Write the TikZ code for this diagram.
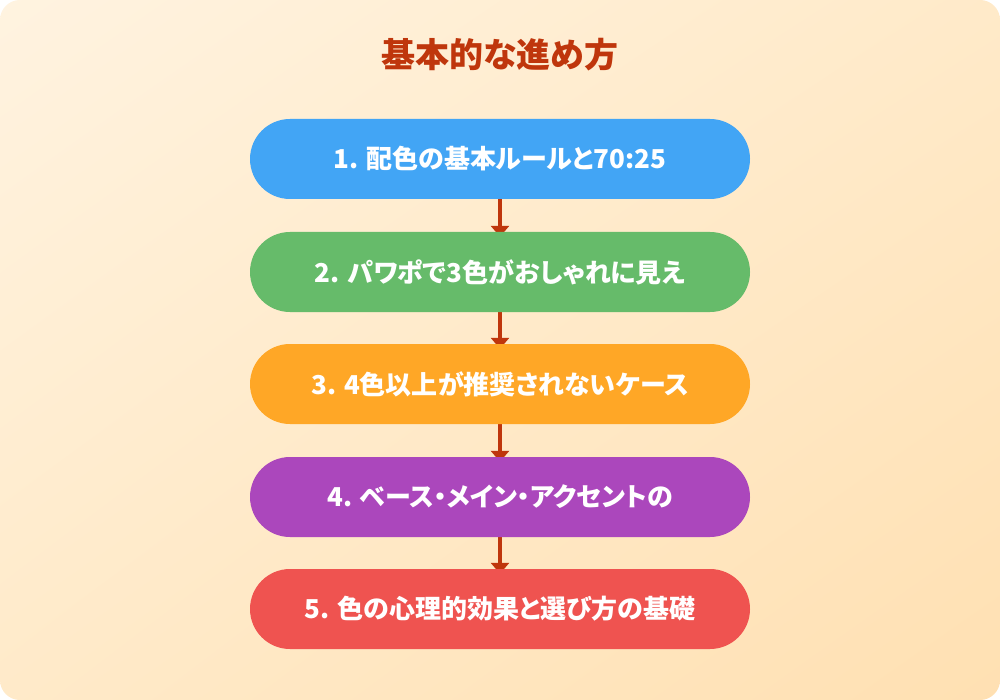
\documentclass[tikz,border=0pt]{standalone}
\usepackage{fontspec}
\setmainfont{Noto Sans CJK JP}[RawFeature=+palt]
\usetikzlibrary{arrows.meta,shadings}
\definecolor{bgA}{HTML}{FFF3E0}
\definecolor{bgB}{HTML}{FFE0B2}
\definecolor{bgM}{HTML}{FFEAC9}
\definecolor{titlec}{HTML}{BF360C}
\definecolor{cA}{HTML}{42A5F5}
\definecolor{cB}{HTML}{66BB6A}
\definecolor{cC}{HTML}{FFA726}
\definecolor{cD}{HTML}{AB47BC}
\definecolor{cE}{HTML}{EF5350}
\pgfdeclarelayer{canvas}
\pgfdeclarelayer{back}
\pgfsetlayers{canvas,back,main}
\tikzset{
  stepbox/.style={rounded corners=40pt, minimum width=500pt, minimum height=80pt,
    text=white, font=\fontsize{26}{30}\selectfont\bfseries, inner sep=0pt},
  link/.style={draw=titlec, line width=3.5pt, -{Triangle[width=18pt,length=11pt]}}
}
\begin{document}
\begin{tikzpicture}[x=1pt,y=-1pt]
\begin{pgfonlayer}{canvas}
\fill[white] (0,0) rectangle (1000,700);
\shade[rounded corners=20pt, upper left=bgA, lower right=bgB,
  upper right=bgM, lower left=bgM] (0,0) rectangle (1000,700);
\end{pgfonlayer}
\useasboundingbox (0,0) rectangle (1000,700);
\node[text=titlec, font=\fontsize{34}{38}\selectfont\bfseries] (title) at (500,55) {基本的な進め方};
\node[stepbox, fill=cA] (s1) at (500,159) {1. 配色の基本ルールと70:25};
\node[stepbox, fill=cB] (s2) at (500,272) {2. パワポで3色がおしゃれに見え};
\node[stepbox, fill=cC] (s3) at (500,384) {3. 4色以上が推奨されないケース};
\node[stepbox, fill=cD] (s4) at (500,497) {4. ベース・メイン・アクセントの};
\node[stepbox, fill=cE] (s5) at (500,609) {5. 色の心理的効果と選び方の基礎};
\begin{pgfonlayer}{back}
\draw[link] (s1.south) -- ([yshift=-5pt]s2.north);
\draw[link] (s2.south) -- ([yshift=-5pt]s3.north);
\draw[link] (s3.south) -- ([yshift=-5pt]s4.north);
\draw[link] (s4.south) -- ([yshift=-5pt]s5.north);
\end{pgfonlayer}
\end{tikzpicture}
\end{document}
